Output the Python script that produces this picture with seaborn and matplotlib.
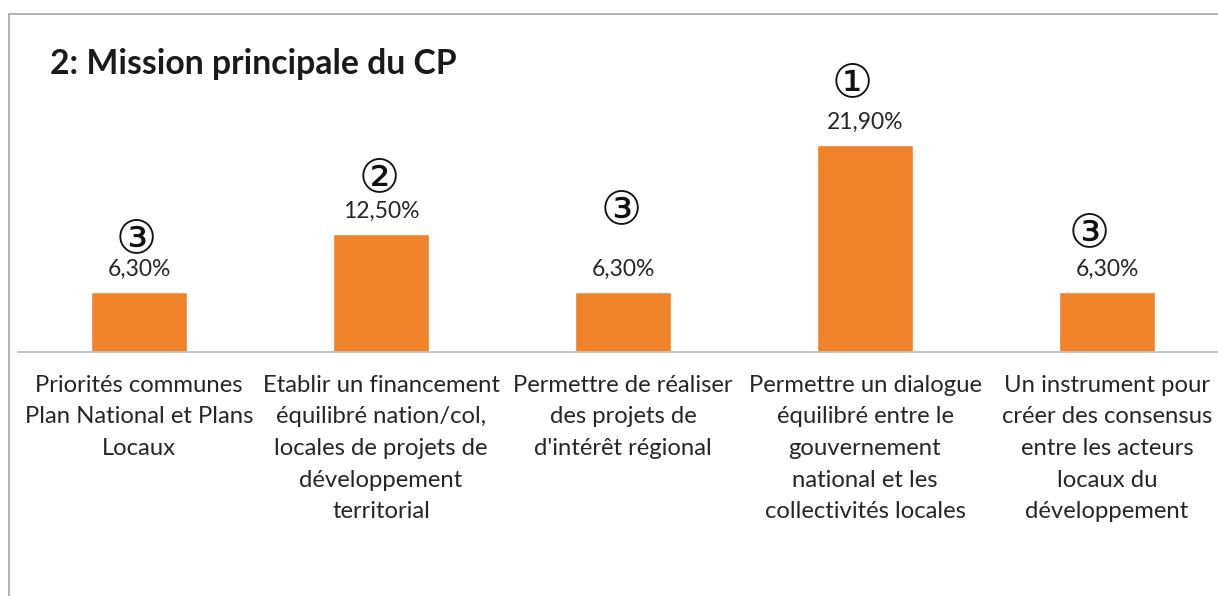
import numpy as np
import pandas as pd
import matplotlib
matplotlib.use("Agg")
import matplotlib.pyplot as plt
import seaborn as sns

# ============================================
# DATA
# ============================================

title = "2: Mission principale du CP"

categories = [
    "Priorités communes\nPlan National et Plans\nLocaux",
    "Etablir un financement\néquilibré nation/col,\nlocales de projets de\ndéveloppement\nterritorial",
    "Permettre de réaliser\ndes projets de\nd'intérêt régional",
    "Permettre un dialogue\néquilibré entre le\ngouvernement\nnational et les\ncollectivités locales",
    "Un instrument pour\ncréer des consensus\nentre les acteurs\nlocaux du\ndéveloppement",
]
values = [6.3, 12.5, 6.3, 21.9, 6.3]
ranks = [3, 2, 3, 1, 3]

# ============================================
# STYLE
# ============================================

bar_color = "#F0822A"
text_color = "#262626"
axis_color = "#BFBFBF"
frame_color = "#A6A6A6"
fam = ["Lato", "DejaVu Sans"]
circled = {1: "\u2460", 2: "\u2461", 3: "\u2462"}
# where each circled rank sits relative to the top of its bar (pixels)
rank_dx = [-3, -2, -2, -13, -18]
rank_dy = [58, 60, 87, 66, 64]
glyph_shift = -5  # DejaVu circle sits a bit high in its text box

sns.set_style("white")
plt.rcParams["font.family"] = fam

W, H = 1218, 596
fig = plt.figure(figsize=(W / 100, H / 100), dpi=100)

# frame of the chart area (clipped at right and bottom)
fig.add_artist(plt.Line2D([9 / W, 1], [1 - 14 / H, 1 - 14 / H], color=frame_color, lw=1.2))
fig.add_artist(plt.Line2D([9 / W, 9 / W], [0, 1 - 14 / H], color=frame_color, lw=1.2))

px_per_unit = 9.45
ymax = 25
ax = fig.add_axes([18 / W, (H - 352) / H, 1210 / W, ymax * px_per_unit / H])

df = pd.DataFrame({"cat": categories, "val": values})
sns.barplot(data=df, x="cat", y="val", color=bar_color, width=0.4,
            saturation=1, ax=ax)
ax.set_xlim(-0.5, 4.5)
ax.set_ylim(0, ymax)

for s in ["top", "right", "left"]:
    ax.spines[s].set_visible(False)
ax.spines["bottom"].set_color(axis_color)
ax.spines["bottom"].set_linewidth(1.3)
ax.set_yticks([])
ax.set_xlabel("")
ax.set_ylabel("")

ax.set_xticks(np.arange(-0.5, 5, 1), minor=True)
ax.tick_params(axis="x", which="minor", length=5.5, width=1, color=axis_color, direction="out")
ax.tick_params(axis="x", which="major", length=0, pad=16.5)
ax.set_xticklabels(categories, fontsize=17.2, color=text_color, linespacing=1.62)

# data labels
labels = [f"{v:.2f}".replace(".", ",") + "%" for v in values]
ax.bar_label(ax.containers[0], labels=labels, padding=9, fontsize=16.5, color=text_color)

# rank markers
for i, (v, r) in enumerate(zip(values, ranks)):
    ax.annotate(circled[r], xy=(i, v),
                xytext=(rank_dx[i] * 0.72, (rank_dy[i] + glyph_shift) * 0.72),
                textcoords="offset points", ha="center", va="center",
                fontsize=33, color="#111111", family="DejaVu Sans")

fig.text(50 / W, 1 - 74 / H, title, fontsize=24.3, fontweight="bold",
         color="#1A1A1A", ha="left", va="baseline")

fig.savefig("out.png", dpi=100)
